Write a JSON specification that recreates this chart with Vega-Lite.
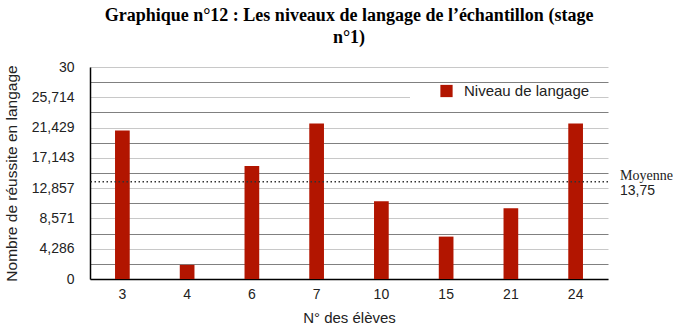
{
  "$schema": "https://vega.github.io/schema/vega-lite/v6.json",
  "width": 518,
  "height": 212,
  "autosize": {"type": "none"},
  "padding": {"left": 90, "top": 67, "right": 65, "bottom": 47},
  "background": "white",
  "title": {
    "text": ["Graphique n°12 : Les niveaux de langage de l’échantillon (stage", "n°1)"],
    "font": "Liberation Serif",
    "fontSize": 18,
    "fontWeight": "bold",
    "color": "#000000",
    "anchor": "middle",
    "offset": 13,
    "lineHeight": 22
  },
  "datasets": {
    "bars": [
      {"eleve": 3, "score": 21, "serie": "Niveau de langage"},
      {"eleve": 4, "score": 2, "serie": "Niveau de langage"},
      {"eleve": 6, "score": 16, "serie": "Niveau de langage"},
      {"eleve": 7, "score": 22, "serie": "Niveau de langage"},
      {"eleve": 10, "score": 11, "serie": "Niveau de langage"},
      {"eleve": 15, "score": 6, "serie": "Niveau de langage"},
      {"eleve": 21, "score": 10, "serie": "Niveau de langage"},
      {"eleve": 24, "score": 22, "serie": "Niveau de langage"}
    ],
    "moy": [{"moyenne": 13.75, "libelle": "Moyenne"}]
  },
  "layer": [
    {
      "data": {"name": "bars"},
      "mark": {"type": "bar"},
      "encoding": {
        "x": {
          "field": "eleve",
          "type": "ordinal",
          "scale": {"paddingInner": 0.773, "paddingOuter": 0.3865},
          "axis": {
            "title": "N° des élèves",
            "labelAngle": 0,
            "ticks": false,
            "domainColor": "#000000",
            "domainWidth": 1.5,
            "labelFont": "Liberation Sans",
            "labelFontSize": 14,
            "labelColor": "#222222",
            "labelPadding": 8,
            "titleFont": "Liberation Sans",
            "titleFontSize": 15,
            "titleFontWeight": "normal",
            "titleColor": "#222222",
            "titlePadding": 9
          }
        },
        "y": {
          "field": "score",
          "type": "quantitative",
          "scale": {"domain": [0, 30], "nice": false},
          "axis": {
            "title": "Nombre de réussite en langage",
            "values": [0, 2.142857142857143, 4.285714285714286, 6.428571428571429, 8.571428571428571, 10.714285714285714, 12.857142857142858, 15, 17.142857142857142, 19.285714285714285, 21.428571428571427, 23.571428571428573, 25.714285714285715, 27.857142857142858, 30],
            "tickCount": 30,
            "labelExpr": "round(datum.value*14/30) % 2 == 0 ? replace(format(datum.value, '.3~f'), '.', ',') : ''",
            "labelOverlap": false,
            "ticks": false,
            "domainColor": "#000000",
            "domainWidth": 1.5,
            "grid": true,
            "gridColor": {"condition": {"test": "round(datum.value*14/30) % 2 == 0", "value": "#c8c8c8"}, "value": "#808080"},
            "gridWidth": 1,
            "labelFont": "Liberation Sans",
            "labelFontSize": 14,
            "labelColor": "#222222",
            "labelPadding": 16,
            "titleFont": "Liberation Sans",
            "titleFontSize": 15.5,
            "titleFontWeight": "normal",
            "titleColor": "#222222",
            "titlePadding": 12
          }
        },
        "color": {
          "field": "serie",
          "type": "nominal",
          "scale": {"range": ["#b21500"]},
          "legend": {
            "title": null,
            "orient": "none",
            "legendX": 320,
            "legendY": 16.5,
            "fillColor": "white",
            "padding": 0,
            "symbolType": "square",
            "symbolSize": 150,
            "symbolStrokeWidth": 0,
            "symbolOffset": 29,
            "labelOffset": 10,
            "labelFont": "Liberation Sans",
            "labelFontSize": 15,
            "labelColor": "#222222",
            "labelExpr": "datum.label + '\u00a0\u00a0\u00a0\u00a0\u00a0\u00a0\u00a0'"
          }
        }
      }
    },
    {
      "data": {"name": "moy"},
      "mark": {"type": "rule", "color": "#333333", "strokeWidth": 1.5, "strokeDash": [1.5, 2.5]},
      "encoding": {"y": {"field": "moyenne", "type": "quantitative"}}
    },
    {
      "data": {"name": "moy"},
      "mark": {"type": "text", "align": "left", "baseline": "middle", "dx": 12, "dy": -6, "font": "Liberation Serif", "fontSize": 14, "color": "#222222"},
      "encoding": {
        "x": {"value": "width"},
        "y": {"field": "moyenne", "type": "quantitative"},
        "text": {"field": "libelle"}
      }
    },
    {
      "data": {"name": "moy"},
      "mark": {"type": "text", "align": "left", "baseline": "middle", "dx": 12, "dy": 9, "font": "Liberation Sans", "fontSize": 14, "color": "#222222"},
      "encoding": {
        "x": {"value": "width"},
        "y": {"field": "moyenne", "type": "quantitative"},
        "text": {"field": "moyenne", "type": "quantitative", "format": ".2f", "formatType": "number"}
      }
    }
  ],
  "config": {
    "view": {"stroke": null},
    "locale": {"number": {"decimal": ",", "thousands": " ", "grouping": [3], "currency": ["", " €"]}}
  }
}
